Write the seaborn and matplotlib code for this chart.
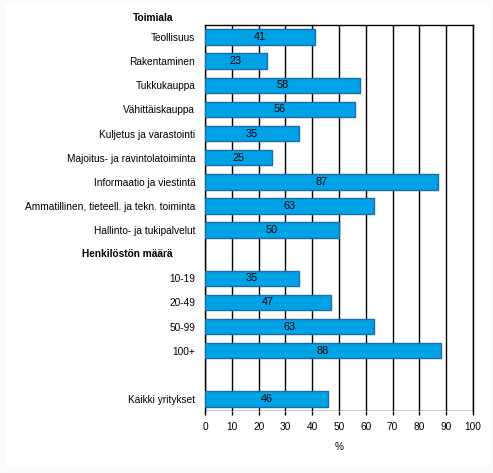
import numpy as np
import pandas as pd
import seaborn as sns
import matplotlib.pyplot as plt
from matplotlib.patches import Rectangle

# Data
toimiala = ['Teollisuus', 'Rakentaminen', 'Tukkukauppa', 'Vähittäiskauppa',
            'Kuljetus ja varastointi', 'Majoitus- ja ravintolatoiminta',
            'Informaatio ja viestintä', 'Ammatillinen, tieteell. ja tekn. toiminta',
            'Hallinto- ja tukipalvelut']
toimiala_arvot = [41, 23, 58, 56, 35, 25, 87, 63, 50]
koko = ['10-19', '20-49', '50-99', '100+']
koko_arvot = [35, 47, 63, 88]
kaikki = ['Kaikki yritykset']
kaikki_arvot = [46]
otsikko1 = 'Toimiala'
otsikko2 = 'Henkilöstön määrä'

# rows of the chart (header row and blank row have no bar)
rivit = toimiala + [otsikko2] + koko + [' '] + kaikki
arvot = toimiala_arvot + [np.nan] + koko_arvot + [np.nan] + kaikki_arvot
df = pd.DataFrame({'rivi': rivit, 'arvo': arvot})

sns.set_style('white')
plt.rcParams['font.family'] = ['Liberation Sans', 'DejaVu Sans']
plt.rcParams['text.color'] = 'black'
plt.rcParams['xtick.labelcolor'] = 'black'
plt.rcParams['ytick.labelcolor'] = 'black'
plt.rcParams['axes.labelcolor'] = 'black'
fs = 7.3

fig = plt.figure(figsize=(4.93, 4.73), dpi=100, facecolor='#fafafa')
fig.patches.append(Rectangle((5 / 493, 8 / 473), 484 / 493, 461 / 473,
                             transform=fig.transFigure, facecolor='white',
                             edgecolor='none', zorder=-1))
ax = fig.add_axes([205 / 493, 62 / 473, 268 / 493, 386 / 473])
ax.set_facecolor('none')

sns.barplot(data=df, x='arvo', y='rivi', order=rivit, color='#00a2e6',
            edgecolor='#1b6db0', linewidth=1, width=0.64, saturation=1,
            ax=ax, zorder=3)

for i, v in enumerate(arvot):
    if not np.isnan(v):
        ax.text(v / 2, i, f'{v:.0f}', ha='center', va='center',
                fontsize=7.8, color='black', zorder=4)

ax.set_xlim(0, 100)
ax.set_xticks(range(0, 101, 10))
ax.grid(axis='x', color='black', linewidth=1, zorder=0)
ax.tick_params(axis='x', length=3, width=1, color='black', labelsize=fs,
               pad=5, bottom=True, direction='out')
ax.tick_params(axis='y', length=0, labelsize=fs, pad=7)
ax.set_xlabel('%', fontsize=fs, labelpad=7)
ax.set_ylabel('')

for s in ['left', 'top', 'right']:
    ax.spines[s].set_visible(True)
    ax.spines[s].set_color('black')
    ax.spines[s].set_linewidth(1)
ax.spines['bottom'].set_visible(False)
ax.axhline(len(rivit) - 0.5, color='black', linewidth=1, zorder=2)

# header rows as bold text
ax.set_yticks(range(len(rivit)))
ax.set_yticklabels([r if r != otsikko2 else '' for r in rivit])
ax.text(173 / 493, 1 - 254 / 473, otsikko2, transform=fig.transFigure,
        ha='right', va='center', fontsize=fs, fontweight='bold')
ax.text(173 / 493, 1 - 18 / 473, otsikko1, transform=fig.transFigure,
        ha='right', va='center', fontsize=fs, fontweight='bold')

fig.savefig('out.png', dpi=100, facecolor=fig.get_facecolor())
